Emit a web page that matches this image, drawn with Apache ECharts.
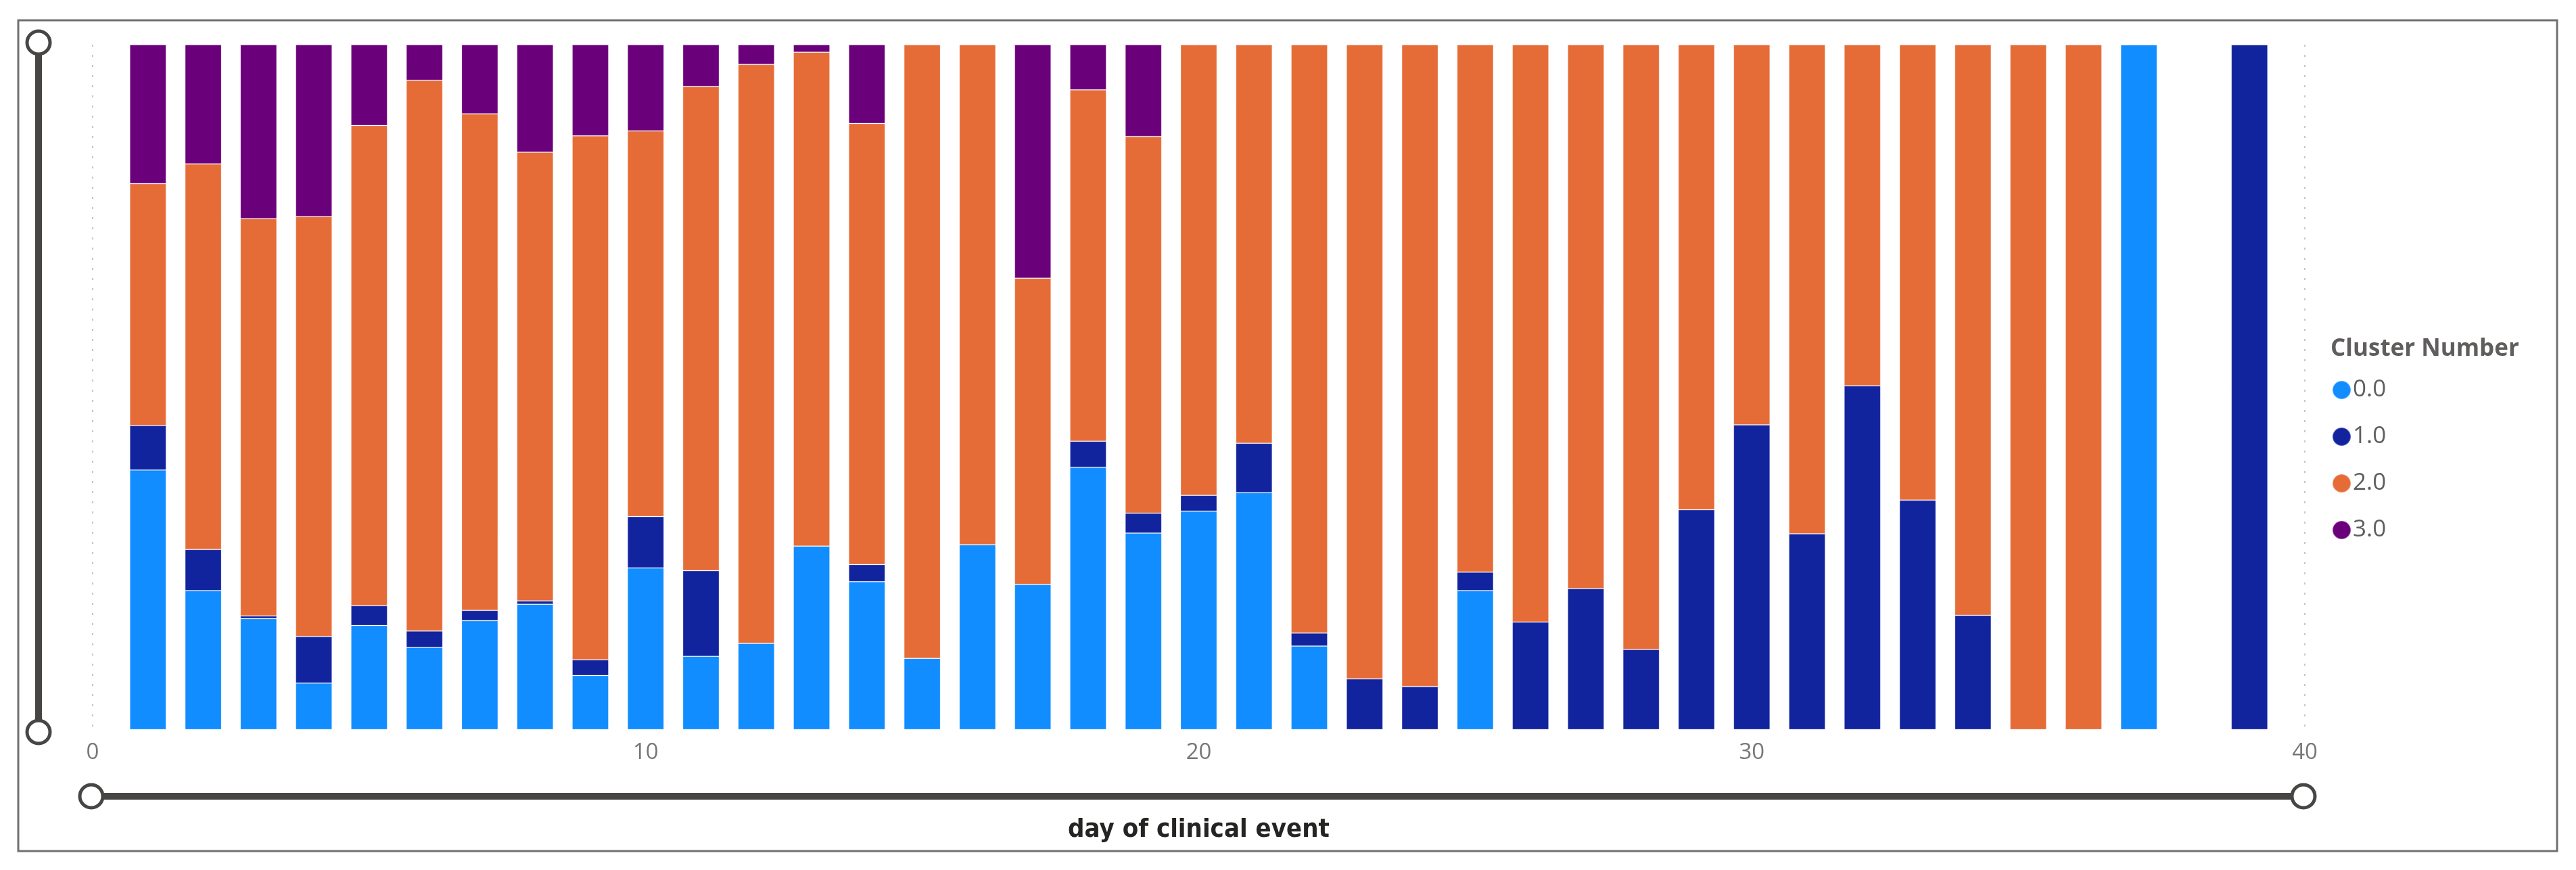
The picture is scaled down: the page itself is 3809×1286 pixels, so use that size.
<!DOCTYPE html>
<html>
<head>
<meta charset="utf-8">
<script src="https://cdn.jsdelivr.net/npm/echarts@6/dist/echarts.min.js"></script>
<style>
html,body{margin:0;padding:0;background:#fff;}
#chart{width:3809px;height:1286px;}
</style>
</head>
<body>
<div id="chart"></div>
<script>
// day of clinical event
const days = [1,2,3,4,5,6,7,8,9,10,11,12,13,14,15,16,17,18,19,20,21,22,23,24,25,26,27,28,29,30,31,32,33,34,35,36,37,39];
// share (%) of each cluster per day
const cluster0 = [37.9,20.3,16.2,6.8,15.2,12.0,15.9,18.3,7.9,23.6,10.7,12.6,26.8,21.6,10.4,27.0,21.2,38.3,28.7,31.9,34.6,12.2,0,0,20.3,0,0,0,0,0,0,0,0,0,0,0,100,0];
const cluster1 = [6.5,6.0,0.4,6.8,2.9,2.4,1.5,0.5,2.3,7.5,12.5,0,0,2.5,0,0,0,3.8,2.9,2.3,7.2,1.9,7.4,6.3,2.7,15.7,20.6,11.7,32.1,44.5,28.6,50.2,33.5,16.7,0,0,0,100];
const cluster2 = [35.3,56.3,58.0,61.3,70.1,80.4,72.5,65.5,76.5,56.3,70.7,84.5,72.1,64.4,89.6,73.0,44.7,51.3,55.0,65.8,58.2,85.9,92.6,93.7,77.0,84.3,79.4,88.3,67.9,55.5,71.4,49.8,66.5,83.3,100,100,0,0];
const cluster3 = [20.3,17.4,25.4,25.1,11.8,5.2,10.1,15.7,13.3,12.6,6.1,2.9,1.1,11.5,0,0,34.1,6.6,13.4,0,0,0,0,0,0,0,0,0,0,0,0,0,0,0,0,0,0,0];
const seriesNames = ['0.0','1.0','2.0','3.0'];
const tickLabels = ['0','10','20','30','40'];
const axisMin = 0, axisMax = 40;

const colors = ['#118DFF','#12239E','#E66C37','#6B007B'];
const allData = [cluster0, cluster1, cluster2, cluster3];

// one category per day from axisMin to axisMax (points on the axis, no boundary gap)
const categories = [];
for (let d = axisMin; d <= axisMax; d++) categories.push(String(d));

const chart = echarts.init(document.getElementById('chart'));
const series = seriesNames.map((name, i) => {
  const data = categories.map(c => {
    const j = days.indexOf(Number(c));
    return j >= 0 ? allData[i][j] : null;
  });
  return {
    name: name,
    type: 'bar',
    stack: 'total',
    barWidth: 54,
    itemStyle: {color: colors[i], borderColor: 'rgba(255,255,255,0.28)', borderWidth: 1},
    emphasis: {disabled: true},
    data: data
  };
});

const dark = '#474645';
chart.setOption({
  animation: false,
  backgroundColor: '#ffffff',
  color: colors,
  grid: {left: 137, right: 401, top: 66, bottom: 207.5, containLabel: false},
  title: {
    text: 'Cluster Number',
    left: 3441, top: 494,
    textStyle: {fontFamily: 'Open Sans', fontWeight: 'bold', fontSize: 35, color: '#605E5C'}
  },
  legend: {
    orient: 'vertical',
    left: 3443, top: 554,
    icon: 'circle',
    itemWidth: 27, itemHeight: 27, itemGap: 34,
    textStyle: {fontFamily: 'Open Sans', fontSize: 35, color: '#605E5C', lineHeight: 27, padding: [0,0,0,-2]},
    data: seriesNames
  },
  xAxis: {
    type: 'category',
    data: categories,
    boundaryGap: false,
    name: 'day of clinical event',
    nameLocation: 'middle',
    nameGap: 130,
    nameTextStyle: {fontFamily: 'Liberation Sans Narrow, DejaVu Sans Condensed', fontWeight: 'bold', fontSize: 38, color: '#252423'},
    axisLine: {show: false},
    axisTick: {show: false, interval: 9},
    axisLabel: {
      fontFamily: 'Open Sans', fontSize: 33, color: '#777777', margin: 18,
      interval: (idx, val) => tickLabels.indexOf(val) >= 0
    },
    splitLine: {
      show: true,
      interval: (idx, val) => tickLabels.indexOf(val) >= 0,
      lineStyle: {color: '#C8C6C4', width: 2, type: [3, 12]}
    }
  },
  yAxis: {
    type: 'value', min: 0, max: 100, show: false
  },
  graphic: [
    {type: 'rect', silent: true, shape: {x: 27, y: 30, width: 3754, height: 1228},
     style: {fill: null, stroke: '#707070', lineWidth: 3}},
    // vertical zoom slider
    {type: 'line', silent: true, shape: {x1: 57, y1: 63, x2: 57, y2: 1082}, style: {stroke: dark, lineWidth: 10}},
    {type: 'circle', silent: true, shape: {cx: 57, cy: 63, r: 17}, style: {fill: '#fff', stroke: dark, lineWidth: 5}},
    {type: 'circle', silent: true, shape: {cx: 57, cy: 1082, r: 17}, style: {fill: '#fff', stroke: dark, lineWidth: 5}},
    // horizontal zoom slider
    {type: 'line', silent: true, shape: {x1: 135, y1: 1177, x2: 3406, y2: 1177}, style: {stroke: dark, lineWidth: 10}},
    {type: 'circle', silent: true, shape: {cx: 135, cy: 1177, r: 17}, style: {fill: '#fff', stroke: dark, lineWidth: 5}},
    {type: 'circle', silent: true, shape: {cx: 3406, cy: 1177, r: 17}, style: {fill: '#fff', stroke: dark, lineWidth: 5}}
  ],
  series: series
});
</script>
</body>
</html>
